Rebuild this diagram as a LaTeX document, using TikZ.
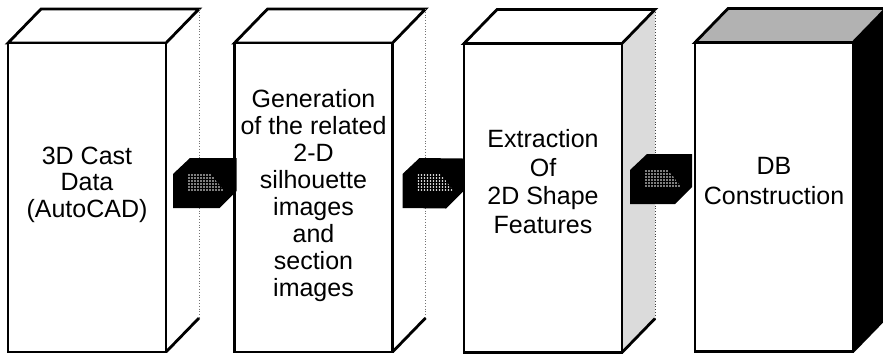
\documentclass[tikz,border=0pt]{standalone}
\usepackage{fontspec}
\setmainfont{Liberation Sans}
\usetikzlibrary{calc,backgrounds}
\begin{document}
\begin{tikzpicture}[x=1pt,y=-1pt,
  edge/.style={draw=black,line width=2.8pt,line join=miter},
  front/.style={edge,fill=white,minimum width=158pt,minimum height=309pt,inner sep=0pt,outer sep=0pt},
  backedge/.style={draw=black!55,line width=0.8pt,dotted},
  boxtext/.style={align=center,inner sep=0pt,font=\fontsize{25}{#1}\selectfont},
  linkblock/.style={fill=black},
  linkdot/.style={fill=white}]
\useasboundingbox (0,0) rectangle (883,360);

% front faces
\node[front] (b1) at (87,197.5) {};
\node[front] (b2) at (313.5,197.5) {};
\node[front] (b3) at (543,198) {};
\node[front] (b4) at (774,197) {};

% top and side faces
\begin{scope}[on background layer]
  \foreach \b/\topfill/\sidefill in {b1/white/white, b2/white/white, b3/white/black!14, b4/black!30/black} {
    \fill[\sidefill] (\b.north east) -- ++(33,-34) -- ++(0,309) -- (\b.south east) -- cycle;
    \draw[edge,fill=\topfill] (\b.north west) -- ++(33,-34) -- ++(158,0) -- (\b.north east) -- cycle;
    \draw[edge] (\b.south east) -- ++(33,-34);
  }
  \draw[backedge] ($(b1.north east)+(33,-34)$) -- ++(0,309);
  \draw[backedge] ($(b2.north east)+(33,-34)$) -- ++(0,309);
  \draw[backedge,draw=black!75] ($(b3.north east)+(33,-34)$) -- ++(0,309);
  \draw[edge] ($(b4.north east)+(33,-34)$) -- ++(0,309);
\end{scope}

% texts
\node[boxtext=26.5] (t1) at ([yshift=13pt]b1.center) {3D Cast\\Data\\(AutoCAD)};
\node[boxtext=27] (t2) at ([yshift=1.5pt]b2.center) {Generation\\of the related\\2-D\\silhouette\\images\\and\\section\\images};
\node[boxtext=28.5] (t3) at ([yshift=16.5pt]b3.center) {Extraction\\Of\\2D Shape\\Features};
\node[boxtext=29.5] (t4) at ([yshift=16pt]b4.center) {DB\\Construction};

% connectors (block arrows)
\coordinate (c1l) at ($(b1.east)+(7,-14.5)$);
\coordinate (c1r) at ($(b2.west)+(2,-14.5)$);
\coordinate (c2l) at ($(b2.east)+(10,-14.5)$);
\coordinate (c2r) at ($(b3.west)+(-1,-14.5)$);
\coordinate (c3l) at ($(b3.east)+(8,-19)$);
\coordinate (c3r) at ($(b4.west)+(-3,-18)$);
\foreach \l/\r in {c1l/c1r, c2l/c2r, c3l/c3r} {
  \fill[linkblock] ($(\l)+(0,-9)$) -- ($(\l)+(17,-25)$) -- ($(\r)+(0,-25)$) -- ($(\r)+(0,8)$)
     -- ($(\r)+(-17,25)$) -- ($(\l)+(0,25)$) -- cycle;
  \begin{scope}
    \clip ($(\l)+(15,-9)$) -- ($(\l)+(38,-9)$) -- ($(\l)+(52,9)$) -- ($(\l)+(15,9)$) -- cycle;
    \foreach \dx in {16,19,...,52} {
      \foreach \dy in {-8,-5,...,9} {
        \fill[linkdot] ($(\l)+(\dx,\dy)$) circle (0.85);
      }
    }
  \end{scope}
}
\end{tikzpicture}
\end{document}
